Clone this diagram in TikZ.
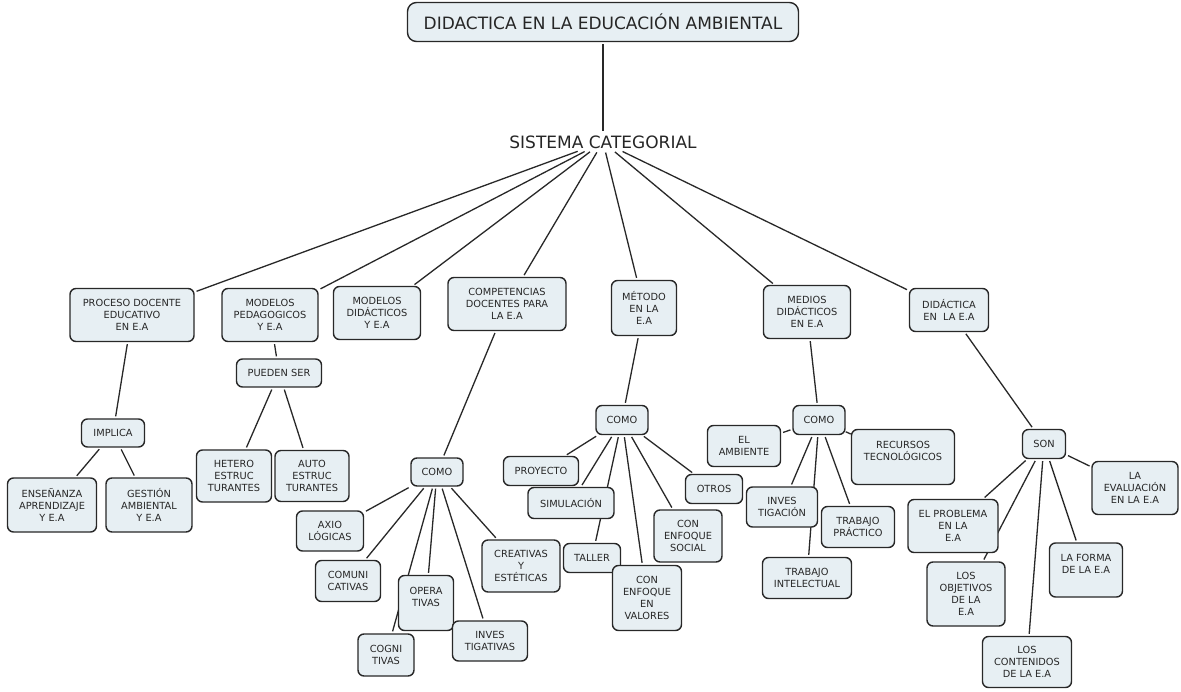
\documentclass[tikz,border=0pt]{standalone}
\usepackage{fontspec}
\setmainfont{DejaVu Sans}
\usetikzlibrary{backgrounds}
\definecolor{boxfill}{RGB}{231,239,243}
\definecolor{boxline}{RGB}{40,40,40}
\definecolor{txt}{RGB}{38,38,38}
\definecolor{linec}{RGB}{40,40,40}
\pgfdeclarelayer{bgzero}
\pgfsetlayers{bgzero,background,main}
\tikzset{
  cbox/.style={draw=boxline, fill=boxfill, line width=1.4pt, rounded corners=6pt,
    align=center, text=txt, font=\fontsize{9.8}{12}\selectfont, inner sep=1pt},
  sz/.style 2 args={minimum width=#1pt, minimum height=#2pt},
  conn/.style={draw=linec, line width=1.3pt, shorten <=2pt, shorten >=2pt},
}
\begin{document}
\begin{tikzpicture}[x=1pt,y=-1pt]
\begin{pgfonlayer}{bgzero}
\fill[white] (0,0) rectangle (1181,692);
\end{pgfonlayer}
\useasboundingbox (0,0) rectangle (1181,692);

% top
\node[cbox, sz={391}{39}, rounded corners=9pt, font=\fontsize{17}{20}\selectfont] (top) at (603,22) {DIDACTICA EN LA EDUCACIÓN AMBIENTAL};
\node[text=txt, font=\fontsize{17}{20}\selectfont, inner sep=2pt] (sc) at (603,142) {SISTEMA CATEGORIAL};

% categories
\node[cbox, sz={124}{53}] (proc) at (132,315) {PROCESO DOCENTE\\EDUCATIVO\\EN E.A};
\node[cbox, sz={96}{53}] (mped) at (270,315) {MODELOS\\PEDAGOGICOS\\Y E.A};
\node[cbox, sz={87}{53}] (mdid) at (377,313) {MODELOS\\DIDÁCTICOS\\Y E.A};
\node[cbox, sz={118}{53}] (comp) at (507,304) {COMPETENCIAS\\DOCENTES PARA\\LA E.A};
\node[cbox, sz={65}{55}] (met) at (644,308) {MÉTODO\\EN LA\\E.A};
\node[cbox, sz={87}{53}] (med) at (807,312) {MEDIOS\\DIDÁCTICOS\\EN E.A};
\node[cbox, sz={79}{43}] (dida) at (949,310) {DIDÁCTICA\\EN~~LA E.A};

% proceso
\node[cbox, sz={63}{28}] (impl) at (113,433) {IMPLICA};
\node[cbox, sz={89}{54}] (ens) at (52,505) {ENSEÑANZA\\APRENDIZAJE\\Y E.A};
\node[cbox, sz={86}{54}] (gest) at (149,505) {GESTIÓN\\AMBIENTAL\\Y E.A};

% modelos pedagogicos
\node[cbox, sz={85}{28}] (pued) at (279,373) {PUEDEN SER};
\node[cbox, sz={75}{52}] (het) at (234,476) {HETERO\\ESTRUC\\TURANTES};
\node[cbox, sz={74}{51}] (auto) at (312,476) {AUTO\\ESTRUC\\TURANTES};

% competencias
\node[cbox, sz={52}{28}] (como1) at (437,472) {COMO};
\node[cbox, sz={67}{40}] (axio) at (330,531) {AXIO\\LÓGICAS};
\node[cbox, sz={65}{41}] (comu) at (348,581) {COMUNI\\CATIVAS};
\node[cbox, sz={56}{42}] (cogni) at (386,655) {COGNI\\TIVAS};
\node[cbox, sz={55}{55}] (opera) at (426,603) {OPERA\\TIVAS\\~};
\node[cbox, sz={75}{40}] (invt) at (490,641) {INVES\\TIGATIVAS};
\node[cbox, sz={78}{52}] (crea) at (521,566) {CREATIVAS\\Y\\ESTÉTICAS};

% metodo
\node[cbox, sz={52}{29}] (como2) at (622,420) {COMO};
\node[cbox, sz={75}{29}] (proy) at (541,471) {PROYECTO};
\node[cbox, sz={86}{31}] (simu) at (571,503) {SIMULACIÓN};
\node[cbox, sz={57}{29}] (tall) at (592,558) {TALLER};
\node[cbox, sz={69}{65}] (valo) at (647,598) {CON\\ENFOQUE\\EN\\VALORES};
\node[cbox, sz={68}{52}] (soci) at (688,536) {CON\\ENFOQUE\\SOCIAL};
\node[cbox, sz={57}{29}] (otro) at (714,489) {OTROS};

% medios
\node[cbox, sz={52}{29}] (como3) at (819,420) {COMO};
\node[cbox, sz={73}{41}] (amb) at (744,446) {EL\\AMBIENTE};
\node[cbox, sz={103}{55}] (recu) at (903,457) {RECURSOS\\TECNOLÓGICOS\\~};
\node[cbox, sz={89}{41}] (trai) at (807,578) {TRABAJO\\INTELECTUAL};
\node[cbox, sz={71}{40}] (invg) at (782,507) {INVES\\TIGACIÓN};
\node[cbox, sz={73}{41}] (trap) at (858,527) {TRABAJO\\PRÁCTICO};

% didactica
\node[cbox, sz={43}{29}] (son) at (1044,444) {SON};
\node[cbox, sz={86}{53}] (eval) at (1135,488) {LA\\EVALUACIÓN\\EN LA E.A};
\node[cbox, sz={90}{53}] (prob) at (953,526) {EL PROBLEMA\\EN LA\\E.A};
\node[cbox, sz={73}{54}] (form) at (1086,570) {LA FORMA\\DE LA E.A\\~};
\node[cbox, sz={78}{64}] (obje) at (966,594) {LOS\\OBJETIVOS\\DE LA\\E.A};
\node[cbox, sz={89}{51}] (cont) at (1027,662) {LOS\\CONTENIDOS\\DE LA E.A};

\begin{pgfonlayer}{background}
\draw[conn] (top) -- (sc);
\foreach \t in {proc,mped,mdid,comp,met,med,dida} \draw[conn] (sc) -- (\t);
\draw[conn] (proc) -- (impl);
\draw[conn] (impl) -- (ens);
\draw[conn] (impl) -- (gest);
\draw[conn] (mped) -- (pued);
\draw[conn] (pued) -- (het);
\draw[conn] (pued) -- (auto);
\draw[conn] (comp) -- (como1);
\foreach \t in {axio,comu,cogni,opera,invt,crea} \draw[conn] (como1) -- (\t);
\draw[conn] (met) -- (como2);
\foreach \t in {proy,simu,tall,valo,soci,otro} \draw[conn] (como2) -- (\t);
\draw[conn] (med) -- (como3);
\foreach \t in {amb,invg,trai,trap} \draw[conn] (como3) -- (\t);
\draw[draw=linec, line width=1.3pt] (como3) -- (recu);
\draw[conn] (dida) -- (son);
\foreach \t in {eval,prob,form,obje,cont} \draw[conn] (son) -- (\t);
\end{pgfonlayer}
\end{tikzpicture}
\end{document}
